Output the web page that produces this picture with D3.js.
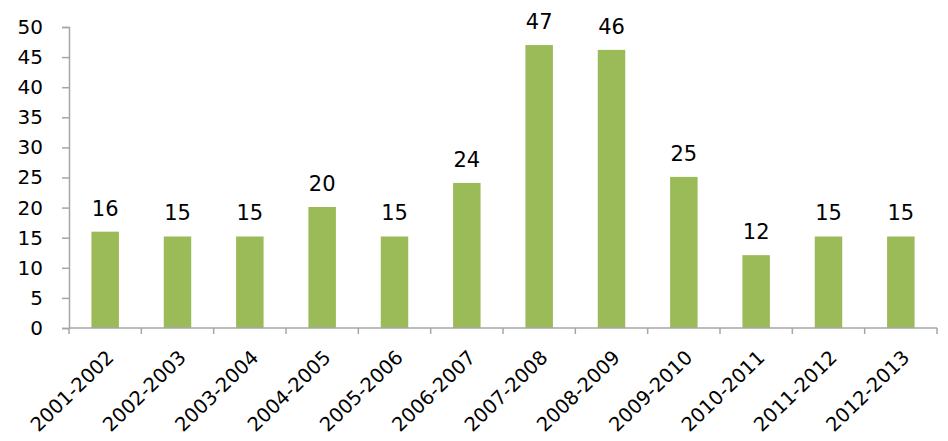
<!DOCTYPE html>
<html><head><meta charset="utf-8">
<script src="https://cdn.jsdelivr.net/npm/d3@7"></script>
<style>body{margin:0;background:#fff}svg{display:block}</style>
</head><body>
<script>
const categories = ["2001-2002","2002-2003","2003-2004","2004-2005","2005-2006","2006-2007","2007-2008","2008-2009","2009-2010","2010-2011","2011-2012","2012-2013"];
const values = [16, 15.2, 15.2, 20.1, 15.2, 24.1, 47, 46.2, 25.1, 12.1, 15.2, 15.2];
const labels = ["16","15","15","20","15","24","47","46","25","12","15","15"];
const yTicks = [0,5,10,15,20,25,30,35,40,45,50];

const W = 948, H = 441;
const m = {left: 69, right: 11, top: 27, bottom: 113};
const svg = d3.select("body").append("svg").attr("width", W).attr("height", H);
const x = d3.scaleBand().domain(categories).range([m.left, W - m.right]).paddingInner(0.62).paddingOuter(0.31);
const y = d3.scaleLinear().domain([0, 50]).range([H - m.bottom, m.top]);
const axisColor = "#a6a6a6";
const font = "'DejaVu Sans', Verdana, sans-serif";

// y axis
const ya = svg.append("g").attr("transform", `translate(${m.left},0)`)
  .call(d3.axisLeft(y).tickValues(yTicks).tickSize(7).tickPadding(19));
ya.select(".domain").attr("stroke", axisColor).attr("stroke-width", 1.5);
ya.selectAll(".tick line").attr("stroke", axisColor).attr("stroke-width", 1.5);
ya.selectAll(".tick text").attr("fill", "#000").style("font-family", font).style("font-size", "20px");

// bars
svg.append("g").selectAll("rect").data(values).join("rect")
  .attr("x", (d, i) => x(categories[i]))
  .attr("width", x.bandwidth())
  .attr("y", d => y(d))
  .attr("height", d => y(0) - y(d))
  .attr("fill", "#9bbb59");

// x axis
const step = x.step();
const xa = svg.append("g").attr("transform", `translate(0,${y(0)})`);
xa.append("line").attr("x1", m.left).attr("x2", W - m.right).attr("stroke", axisColor).attr("stroke-width", 1.5);
const bounds = d3.range(categories.length + 1).map(i => m.left + i * step);
xa.selectAll(".tk").data(bounds).join("line").attr("class", "tk")
  .attr("x1", d => d).attr("x2", d => d).attr("y1", 0).attr("y2", 6)
  .attr("stroke", axisColor).attr("stroke-width", 1.5);
xa.selectAll("text").data(categories).join("text")
  .attr("transform", d => `translate(${x(d) + x.bandwidth()/2 + 5},${26}) rotate(-44)`)
  .attr("text-anchor", "end")
  .attr("dy", "0.35em")
  .style("font-family", font).style("font-size", "19.5px").attr("fill", "#000")
  .text(d => d);

// data labels
svg.append("g").selectAll("text").data(values).join("text")
  .attr("x", (d, i) => x(categories[i]) + x.bandwidth()/2)
  .attr("y", d => y(d) - 16)
  .attr("text-anchor", "middle")
  .style("font-family", font).style("font-size", "21px").attr("fill", "#000")
  .text((d, i) => labels[i]);
</script>
</body></html>
